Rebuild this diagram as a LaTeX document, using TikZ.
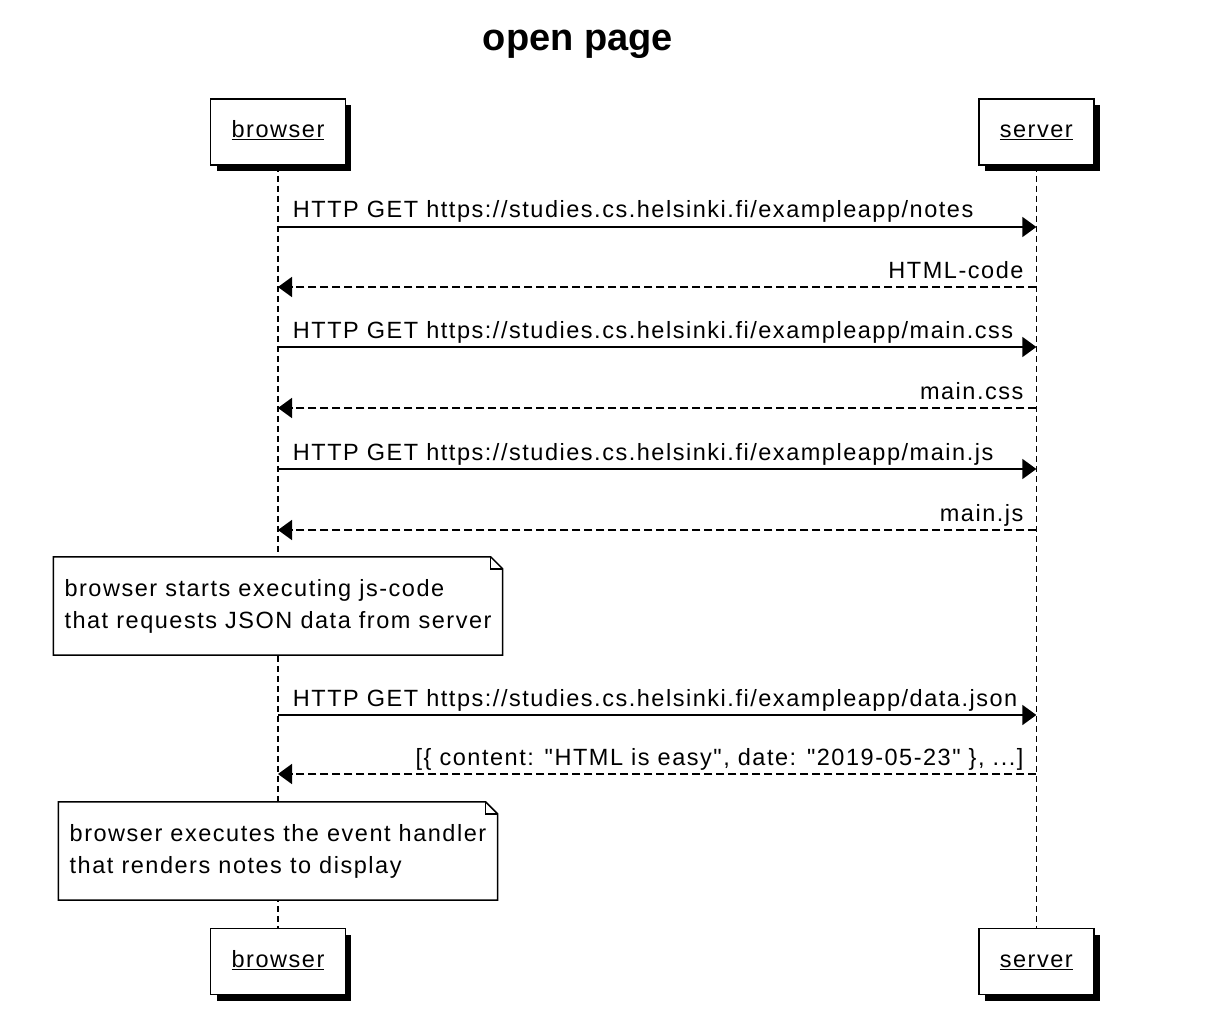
\documentclass[tikz,border=0pt]{standalone}
\usepackage{fontspec}
\setmainfont{Liberation Sans}
\newfontfamily\diagfont{Liberation Sans}[LetterSpace=6.5]
\usetikzlibrary{positioning,shadows,arrows.meta}
\tikzset{
	actor/.style={rectangle, draw=black, line width=1.5pt, fill=white,
		font=\diagfont\fontsize{23.5}{28}\selectfont, inner xsep=21pt,
		text height=17pt, text depth=5pt, minimum height=66pt,
		drop shadow={shadow xshift=6pt, shadow yshift=-6pt, fill=black, opacity=1}},
	lifeline/.style={draw=black, line width=1.1pt, dash pattern=on 6pt off 4pt},
	call/.style={line width=1.8pt, -{Triangle[length=14pt,width=20pt]}},
	reply/.style={call, dash pattern=on 8pt off 4pt},
	msgtext/.style={font=\diagfont\fontsize{23.5}{28}\selectfont, inner sep=0pt},
	note/.style={rectangle, fill=white, font=\diagfont\fontsize{23.5}{32}\selectfont,
		align=left, inner xsep=11pt, minimum height=98pt},
	noteframe/.style={draw=black, line width=1.5pt}
}
\begin{document}
\begin{tikzpicture}[x=1pt,y=-1pt]
	\fill[white] (0,0) rectangle (1220,1016);
	\useasboundingbox (0,0) rectangle (1220,1016);
	
	\node[font=\bfseries\fontsize{38}{42}\selectfont, anchor=base] (title) at (578,51) {open page};
	
	% participants
	\node[actor] (bhead) at (278,132) {\underline{browser}};
	\node[actor, right=632pt of bhead] (shead) {\underline{server}};
	\node[actor, below=762pt of bhead] (bfoot) {\underline{browser}};
	\node[actor, below=762pt of shead] (sfoot) {\underline{server}};
	
	\draw[lifeline] (bhead.south) -- (bfoot.north);
	\draw[lifeline] (shead.south) -- (sfoot.north);
	
	% message rows
	\coordinate (b1) at (bhead.south |- 0,227);
	\coordinate (s1) at (shead.south |- 0,227);
	\coordinate (b2) at (bhead.south |- 0,287);
	\coordinate (s2) at (shead.south |- 0,287);
	\coordinate (b3) at (bhead.south |- 0,347);
	\coordinate (s3) at (shead.south |- 0,347);
	\coordinate (b4) at (bhead.south |- 0,408);
	\coordinate (s4) at (shead.south |- 0,408);
	\coordinate (b5) at (bhead.south |- 0,469);
	\coordinate (s5) at (shead.south |- 0,469);
	\coordinate (b6) at (bhead.south |- 0,530);
	\coordinate (s6) at (shead.south |- 0,530);
	\coordinate (b7) at (bhead.south |- 0,715);
	\coordinate (s7) at (shead.south |- 0,715);
	\coordinate (b8) at (bhead.south |- 0,774);
	\coordinate (s8) at (shead.south |- 0,774);
	
	\draw[call] (b1) -- (s1) node[msgtext, pos=0, anchor=base west, xshift=14pt, yshift=9pt] {HTTP GET https://studies.cs.helsinki.fi/exampleapp/notes};
	\draw[reply] (s2) -- (b2) node[msgtext, pos=0, anchor=base east, xshift=-12pt, yshift=9pt] {HTML-code};
	\draw[call] (b3) -- (s3) node[msgtext, pos=0, anchor=base west, xshift=14pt, yshift=9pt] {HTTP GET https://studies.cs.helsinki.fi/exampleapp/main.css};
	\draw[reply] (s4) -- (b4) node[msgtext, pos=0, anchor=base east, xshift=-12pt, yshift=9pt] {main.css};
	\draw[call] (b5) -- (s5) node[msgtext, pos=0, anchor=base west, xshift=14pt, yshift=9pt] {HTTP GET https://studies.cs.helsinki.fi/exampleapp/main.js};
	\draw[reply] (s6) -- (b6) node[msgtext, pos=0, anchor=base east, xshift=-12pt, yshift=9pt] {main.js};
	
	\node[note] (n1) at (bhead.south |- 0,606) {browser starts executing js-code\\that requests JSON data from server};
	\draw[noteframe] (n1.north west) -- ([xshift=-12pt]n1.north east) -- ([yshift=-12pt]n1.north east) -- (n1.south east) -- (n1.south west) -- cycle;
	\draw[noteframe] ([xshift=-12pt]n1.north east) |- ([yshift=-12pt]n1.north east);
	
	\draw[call] (b7) -- (s7) node[msgtext, pos=0, anchor=base west, xshift=14pt, yshift=9pt] {HTTP GET https://studies.cs.helsinki.fi/exampleapp/data.json};
	\draw[reply] (s8) -- (b8) node[msgtext, pos=0, anchor=base east, xshift=-12pt, yshift=9pt] {[\{ content: "HTML is easy", date: "2019-05-23" \}, ...]};
	
	\node[note] (n2) at (bhead.south |- 0,851) {browser executes the event handler\\that renders notes to display};
	\draw[noteframe] (n2.north west) -- ([xshift=-12pt]n2.north east) -- ([yshift=-12pt]n2.north east) -- (n2.south east) -- (n2.south west) -- cycle;
	\draw[noteframe] ([xshift=-12pt]n2.north east) |- ([yshift=-12pt]n2.north east);
\end{tikzpicture}
\end{document}
